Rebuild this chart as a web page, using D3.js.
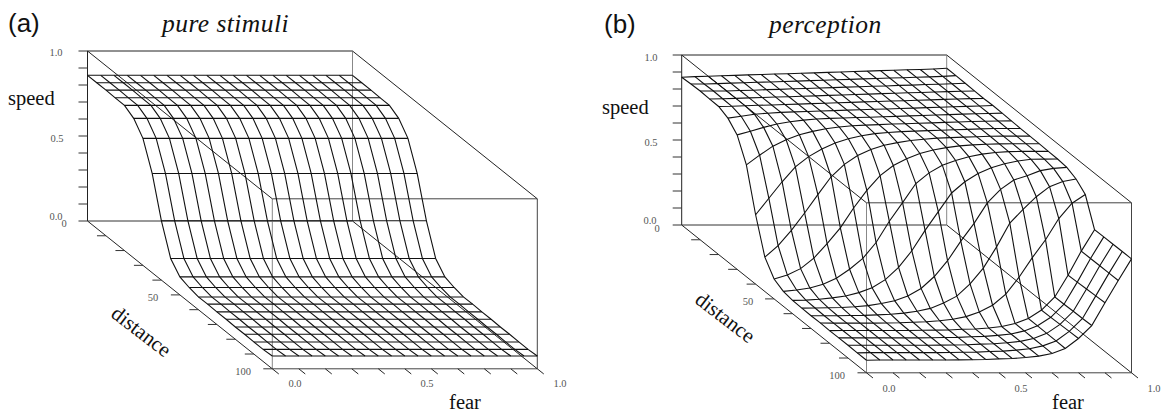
<!DOCTYPE html>
<html>
<head>
<meta charset="utf-8">
<script src="https://cdn.jsdelivr.net/npm/d3@7"></script>
<style>
  body { margin: 0; background: #fff; }
</style>
</head>
<body>
<div id="chart"></div>
<script>
// axis ticks
var fearTicks = [0, 0.1, 0.2, 0.3, 0.4, 0.5, 0.6, 0.7, 0.8, 0.9, 1];
var distanceTicks = [0, 10, 20, 30, 40, 50, 60, 70, 80, 90, 100];
var speedTicks = [0, 0.1, 0.2, 0.3, 0.4, 0.5, 0.6, 0.7, 0.8, 0.9, 1];
var fearLabels = ["0.0", "0.5", "1.0"];
var distanceLabels = ["0", "50", "100"];
var speedLabels = ["0.0", "0.5", "1.0"];

// grid of the two surfaces
var fearGrid = [0, 0.05, 0.1, 0.15, 0.2, 0.25, 0.3, 0.35, 0.4, 0.45, 0.5, 0.55, 0.6, 0.65, 0.7, 0.75, 0.8, 0.85, 0.9, 0.95, 1];
var distanceGrid = [0, 5, 10, 15, 20, 25, 30, 35, 40, 45, 50, 55, 60, 65, 70, 75, 80, 85, 90, 95, 100];

// (a) speed only changes with distance, one value per distance
var speedPure = [0.857, 0.857, 0.857, 0.855, 0.854, 0.821, 0.747, 0.584, 0.349, 0.171, 0.106,
                 0.087, 0.075, 0.076, 0.074, 0.074, 0.072, 0.073, 0.071, 0.071, 0.075];

// (b), one row per distance, one column per fear
var speedPerception = [
  [.869,.873,.875,.878,.880,.883,.885,.888,.890,.893,.895,.898,.900,.903,.905,.908,.910,.913,.915,.918,.922],
  [.873,.873,.875,.878,.880,.883,.885,.888,.890,.893,.895,.898,.900,.903,.905,.908,.910,.913,.915,.918,.922],
  [.875,.875,.875,.878,.880,.883,.885,.888,.890,.893,.895,.898,.900,.903,.905,.908,.910,.913,.915,.918,.921],
  [.872,.873,.875,.878,.880,.883,.885,.888,.890,.893,.895,.898,.900,.903,.905,.908,.910,.913,.915,.917,.919],
  [.871,.872,.875,.878,.880,.883,.885,.888,.890,.893,.895,.898,.900,.903,.905,.908,.910,.913,.915,.917,.918],
  [.846,.857,.869,.875,.880,.883,.885,.888,.890,.893,.895,.898,.900,.903,.905,.908,.910,.913,.915,.917,.920],
  [.791,.812,.835,.855,.868,.878,.884,.888,.890,.893,.895,.898,.900,.903,.905,.908,.910,.913,.915,.917,.919],
  [.658,.715,.768,.806,.835,.855,.870,.881,.888,.892,.895,.898,.900,.903,.905,.908,.910,.913,.915,.916,.917],
  [.408,.505,.602,.690,.750,.795,.830,.855,.873,.885,.892,.897,.900,.903,.905,.908,.910,.913,.915,.915,.915],
  [.202,.270,.360,.462,.570,.675,.748,.800,.835,.860,.876,.888,.896,.902,.905,.908,.910,.913,.914,.914,.914],
  [.117,.140,.178,.240,.325,.418,.535,.638,.725,.785,.825,.855,.876,.890,.900,.906,.910,.912,.913,.913,.913],
  [.088,.096,.108,.130,.165,.218,.282,.375,.500,.610,.722,.785,.830,.858,.880,.895,.905,.910,.911,.911,.911],
  [.078,.080,.085,.093,.104,.124,.152,.200,.272,.370,.490,.600,.710,.776,.825,.858,.882,.898,.908,.909,.910],
  [.076,.077,.078,.080,.084,.091,.103,.120,.148,.192,.262,.355,.470,.575,.695,.775,.830,.855,.885,.898,.904],
  [.075,.075,.075,.076,.077,.080,.084,.090,.101,.118,.150,.190,.262,.355,.480,.620,.700,.775,.834,.864,.879],
  [.076,.075,.075,.075,.075,.076,.077,.080,.083,.089,.098,.113,.140,.180,.245,.345,.460,.565,.690,.780,.831],
  [.074,.075,.075,.075,.075,.075,.075,.076,.077,.078,.082,.084,.090,.098,.116,.146,.195,.272,.400,.542,.668],
  [.075,.075,.075,.075,.075,.075,.075,.076,.077,.078,.082,.084,.090,.098,.116,.146,.196,.273,.403,.542,.669],
  [.075,.075,.075,.075,.075,.075,.075,.076,.077,.078,.082,.084,.090,.098,.115,.145,.198,.275,.406,.543,.669],
  [.074,.075,.075,.075,.075,.075,.075,.076,.077,.078,.082,.084,.090,.098,.115,.144,.200,.276,.409,.543,.670],
  [.074,.075,.075,.075,.075,.075,.075,.076,.077,.078,.082,.084,.090,.098,.114,.143,.202,.278,.412,.543,.670]
];

var width = 1163, height = 413;

// the oblique projection, one scale for each screen offset
var fearX = d3.scaleLinear().domain([0, 1]).range([0, 265]);
var distX = d3.scaleLinear().domain([0, 100]).range([0, 184.8]);
var distY = d3.scaleLinear().domain([0, 100]).range([0, 147.8]);
var speedY = d3.scaleLinear().domain([0, 1]).range([0, -170]);

var svg = d3.select("#chart").append("svg")
    .attr("width", width)
    .attr("height", height);

var valueline = d3.line()
    .x(function(d) { return fearX(d.fear) + distX(d.dist); })
    .y(function(d) { return distY(d.dist) + speedY(d.speed); });

function seg(g, a, b, color) {
  g.append("path")
      .attr("d", valueline([a, b]))
      .attr("fill", "none")
      .attr("stroke", color || "#222")
      .attr("stroke-width", 1);
}

function drawPanel(ox, oy, grid, lab) {
  var g = svg.append("g").attr("transform", "translate(" + ox + "," + oy + ")");

  // walls of the box
  var p = (fear, dist, speed) => ({fear: fear, dist: dist, speed: speed});
  seg(g, p(0, 0, 1), p(1, 0, 1));
  seg(g, p(0, 0, 0), p(0, 0, 1));
  seg(g, p(0, 0, 0), p(1, 0, 0), "#333");
  seg(g, p(1, 0, 0), p(1, 0, 1), "#888");
  seg(g, p(0, 100, 0), p(0, 100, 1), "#888");
  seg(g, p(0, 100, 1), p(1, 100, 1), "#444");
  seg(g, p(1, 100, 0), p(1, 100, 1), "#444");
  seg(g, p(0, 100, 0), p(1, 100, 0), "#444");
  seg(g, p(0, 0, 1), p(0, 100, 1));
  seg(g, p(1, 0, 1), p(1, 100, 1));
  seg(g, p(0, 0, 0), p(0, 100, 0));
  seg(g, p(1, 0, 0), p(1, 100, 0));

  // ticks
  speedTicks.forEach(function(t) { seg(g, p(-0.034, 0, t), p(0, 0, t), "#333"); });
  distanceTicks.slice(1).forEach(function(t) { seg(g, p(-0.034, t, 0), p(0, t, 0), "#333"); });
  fearTicks.forEach(function(t) { seg(g, p(t, 100, 0), p(t, 103.5, 0), "#222"); });

  // surface, rows of constant distance then columns of constant fear
  distanceGrid.forEach(function(dist, i) {
    g.append("path")
        .attr("d", valueline(fearGrid.map(function(fear, j) { return p(fear, dist, grid[i][j]); })))
        .attr("fill", "none").attr("stroke", "#111").attr("stroke-width", 1.1);
  });
  fearGrid.forEach(function(fear, j) {
    g.append("path")
        .attr("d", valueline(distanceGrid.map(function(dist, i) { return p(fear, dist, grid[i][j]); })))
        .attr("fill", "none").attr("stroke", "#111").attr("stroke-width", 1.1);
  });

  // small tick labels
  var small = function(s, x, y) {
    svg.append("text").attr("x", x).attr("y", y)
        .attr("text-anchor", "middle")
        .style("font-family", "Liberation Serif").style("font-size", "10.5px").style("fill", "#555")
        .text(s);
  };
  lab.speed.forEach(function(d, i) { small(speedLabels[i], d[0], d[1]); });
  lab.dist.forEach(function(d, i) { small(distanceLabels[i], d[0], d[1]); });
  lab.fear.forEach(function(d, i) { small(fearLabels[i], d[0], d[1]); });

  // big labels
  var big = function(s, x, y, size) {
    return svg.append("text").attr("x", x).attr("y", y)
        .style("font-family", "Liberation Serif").style("font-size", size + "px").style("fill", "#111")
        .text(s);
  };
  big(lab.name, lab.nameAt[0], lab.nameAt[1], 25.5).style("font-style", "italic").style("letter-spacing", "0.45px");
  big("speed", lab.speedAt[0], lab.speedAt[1], 20.5);
  big("fear", lab.fearAt[0], lab.fearAt[1], 20.5).attr("text-anchor", "middle");
  big("distance", 0, 0, 21)
      .attr("text-anchor", "middle")
      .attr("transform", "translate(" + lab.distAt[0] + "," + lab.distAt[1] + ") rotate(37.5)");
  svg.append("text").attr("x", lab.tagAt[0]).attr("y", lab.tagAt[1])
      .style("font-family", "Liberation Sans").style("font-size", "26px").style("fill", "#111")
      .text(lab.tag);
}

var gridPure = distanceGrid.map(function(d, i) { return fearGrid.map(function() { return speedPure[i]; }); });

drawPanel(87.5, 221, gridPure, {
  tag: "(a)", tagAt: [8, 32],
  name: "pure stimuli", nameAt: [162, 32],
  speedAt: [8, 105],
  fearAt: [465, 409],
  distAt: [137, 337],
  speed: [[56, 220], [57, 142], [56, 56]],
  dist: [[64, 227], [153, 301], [243, 375]],
  fear: [[295, 387], [427, 387], [560, 387]]
});

drawPanel(681.7, 225, speedPerception, {
  tag: "(b)", tagAt: [604, 33],
  name: "perception", nameAt: [769, 33],
  speedAt: [602, 114],
  fearAt: [1068, 409],
  distAt: [721, 323],
  speed: [[650, 224], [651, 146], [651, 61]],
  dist: [[657, 232], [748, 305], [837, 379]],
  fear: [[889, 392], [1021, 392], [1154, 392]]
});
</script>
</body>
</html>
